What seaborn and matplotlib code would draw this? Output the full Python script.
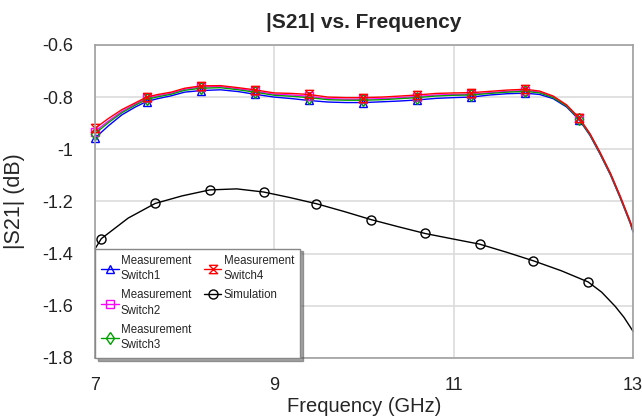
import matplotlib
matplotlib.use("Agg")
import matplotlib.pyplot as plt
import seaborn as sns
import pandas as pd
from matplotlib.ticker import FixedLocator, FuncFormatter

# ---------------- data ----------------
meas_freq = [7.0, 7.15, 7.3, 7.45, 7.575, 7.7, 7.85, 8.0, 8.18, 8.4, 8.6, 8.78,
             9.0, 9.2, 9.385, 9.6, 9.8, 9.99, 10.2, 10.4, 10.59, 10.8, 11.0,
             11.196, 11.4, 11.6, 11.8, 11.96, 12.11, 12.26, 12.4, 12.52, 12.63,
             12.75, 12.86, 12.97, 13.0]
meas_marker_idx = [0, 4, 8, 11, 14, 17, 20, 23, 26, 30]

switch1 = [-0.957, -0.910, -0.868, -0.838, -0.817, -0.806, -0.795, -0.781, -0.775,
           -0.772, -0.779, -0.789, -0.800, -0.806, -0.813, -0.819, -0.821, -0.821,
           -0.818, -0.815, -0.811, -0.805, -0.802, -0.800, -0.792, -0.787, -0.785,
           -0.790, -0.806, -0.838, -0.887, -0.947, -1.017, -1.100, -1.189, -1.285, -1.317]
switch2 = [-0.932, -0.892, -0.855, -0.827, -0.805, -0.795, -0.785, -0.770, -0.761,
           -0.760, -0.768, -0.777, -0.789, -0.792, -0.797, -0.806, -0.808, -0.808,
           -0.806, -0.802, -0.798, -0.792, -0.790, -0.789, -0.783, -0.778, -0.775,
           -0.781, -0.799, -0.832, -0.882, -0.942, -1.012, -1.095, -1.184, -1.280, -1.312]
switch3 = [-0.940, -0.898, -0.860, -0.831, -0.809, -0.799, -0.789, -0.774, -0.766,
           -0.764, -0.772, -0.781, -0.793, -0.797, -0.802, -0.810, -0.812, -0.812,
           -0.810, -0.806, -0.802, -0.796, -0.793, -0.792, -0.786, -0.781, -0.778,
           -0.784, -0.802, -0.834, -0.884, -0.944, -1.014, -1.097, -1.186, -1.282, -1.314]
switch4 = [-0.920, -0.882, -0.848, -0.822, -0.800, -0.790, -0.781, -0.766, -0.757,
           -0.756, -0.764, -0.772, -0.784, -0.786, -0.790, -0.800, -0.802, -0.802,
           -0.800, -0.796, -0.792, -0.786, -0.784, -0.783, -0.778, -0.773, -0.770,
           -0.777, -0.796, -0.830, -0.880, -0.940, -1.010, -1.093, -1.182, -1.278, -1.310]

sim_freq = [7.0, 7.07, 7.37, 7.67, 7.97, 8.28, 8.58, 8.88, 9.17, 9.47, 9.78, 10.08,
            10.38, 10.68, 10.99, 11.29, 11.59, 11.89, 12.20, 12.50, 12.65, 12.80,
            12.90, 13.0]
sim_marker_idx = [1, 3, 5, 7, 9, 11, 13, 15, 17, 19]
simulation = [-1.382, -1.343, -1.264, -1.208, -1.179, -1.156, -1.152, -1.164, -1.185,
              -1.209, -1.239, -1.270, -1.297, -1.323, -1.344, -1.364, -1.395, -1.428,
              -1.466, -1.509, -1.548, -1.602, -1.645, -1.698]

labels = ["Measurement\nSwitch1", "Measurement\nSwitch2", "Measurement\nSwitch3",
          "Measurement\nSwitch4", "Simulation"]
x_ticks = [7, 9, 11, 13]
y_ticks = [-1.8, -1.6, -1.4, -1.2, -1.0, -0.8, -0.6]

# ---------------- style ----------------
sns.set_style("white")
plt.rcParams["font.family"] = ["Liberation Sans", "DejaVu Sans"]

fig = plt.figure(figsize=(6.42, 4.20), dpi=100)
ax = fig.add_axes([0.148, 0.148, 0.838, 0.745])

hourglass = [(-1, 1), (1, 1), (-1, -1), (1, -1), (-1, 1)]

series = [
    ("sim", sim_freq, simulation, "black", "o", sim_marker_idx, labels[4], 6.5),
    ("s1", meas_freq, switch1, "#0000ff", "^", meas_marker_idx, labels[0], 6),
    ("s2", meas_freq, switch2, "#ff00ff", "s", meas_marker_idx, labels[1], 6),
    ("s3", meas_freq, switch3, "#00a000", "d", meas_marker_idx, labels[2], 6),
    ("s4", meas_freq, switch4, "#ff0000", hourglass, meas_marker_idx, labels[3], 6),
]

handles = {}
for key, xs, ys, col, mk, mev, lab, ms in series:
    df = pd.DataFrame({"f": xs, "v": ys})
    sns.lineplot(data=df, x="f", y="v", ax=ax, color=col, lw=1.0, sort=False,
                 estimator=None, marker=mk, markevery=mev, markersize=ms,
                 markerfacecolor="none", markeredgecolor=col, markeredgewidth=1.0,
                 clip_on=False, label=lab, legend=False)
    handles[key] = ax.lines[-1]

ax.set_xlim(7, 13)
ax.set_ylim(-1.8, -0.6)
ax.xaxis.set_major_locator(FixedLocator(x_ticks))
ax.yaxis.set_major_locator(FixedLocator(y_ticks))
ax.xaxis.set_major_formatter(FuncFormatter(lambda v, p: f"{v:g}"))
ax.yaxis.set_major_formatter(FuncFormatter(lambda v, p: f"{v:g}"))
ax.tick_params(axis="both", length=0, labelsize=13, colors="#222222")
ax.tick_params(axis="y", pad=16)
ax.tick_params(axis="x", pad=14)

ax.grid(True, color="#dcdcdc", lw=1.2)
for s in ax.spines.values():
    s.set_color("#a0a0a0")
    s.set_linewidth(1.2)

ax.set_xlabel("Frequency (GHz)", fontsize=14.5, labelpad=2)
ax.set_ylabel("|S21| (dB)", fontsize=15.5, labelpad=12)
ax.set_title("|S21| vs. Frequency", fontsize=15, fontweight="bold", pad=12)

order = ["s1", "s2", "s3", "s4", "sim"]
leg = ax.legend([handles[k] for k in order], [handles[k].get_label() for k in order],
                ncol=2, loc="lower left", bbox_to_anchor=(0.0, 0.0), borderaxespad=0.0,
                frameon=True, fancybox=False, shadow=True,
                handlelength=1.5, handletextpad=0.2, columnspacing=1.1,
                labelspacing=0.6, borderpad=0.55,
                prop={"size": 8.3})
for t in leg.get_texts():
    t.set_linespacing(1.4)
leg.get_frame().set_edgecolor("#888888")
leg.get_frame().set_linewidth(1.0)

fig.savefig("out.png", dpi=100)
